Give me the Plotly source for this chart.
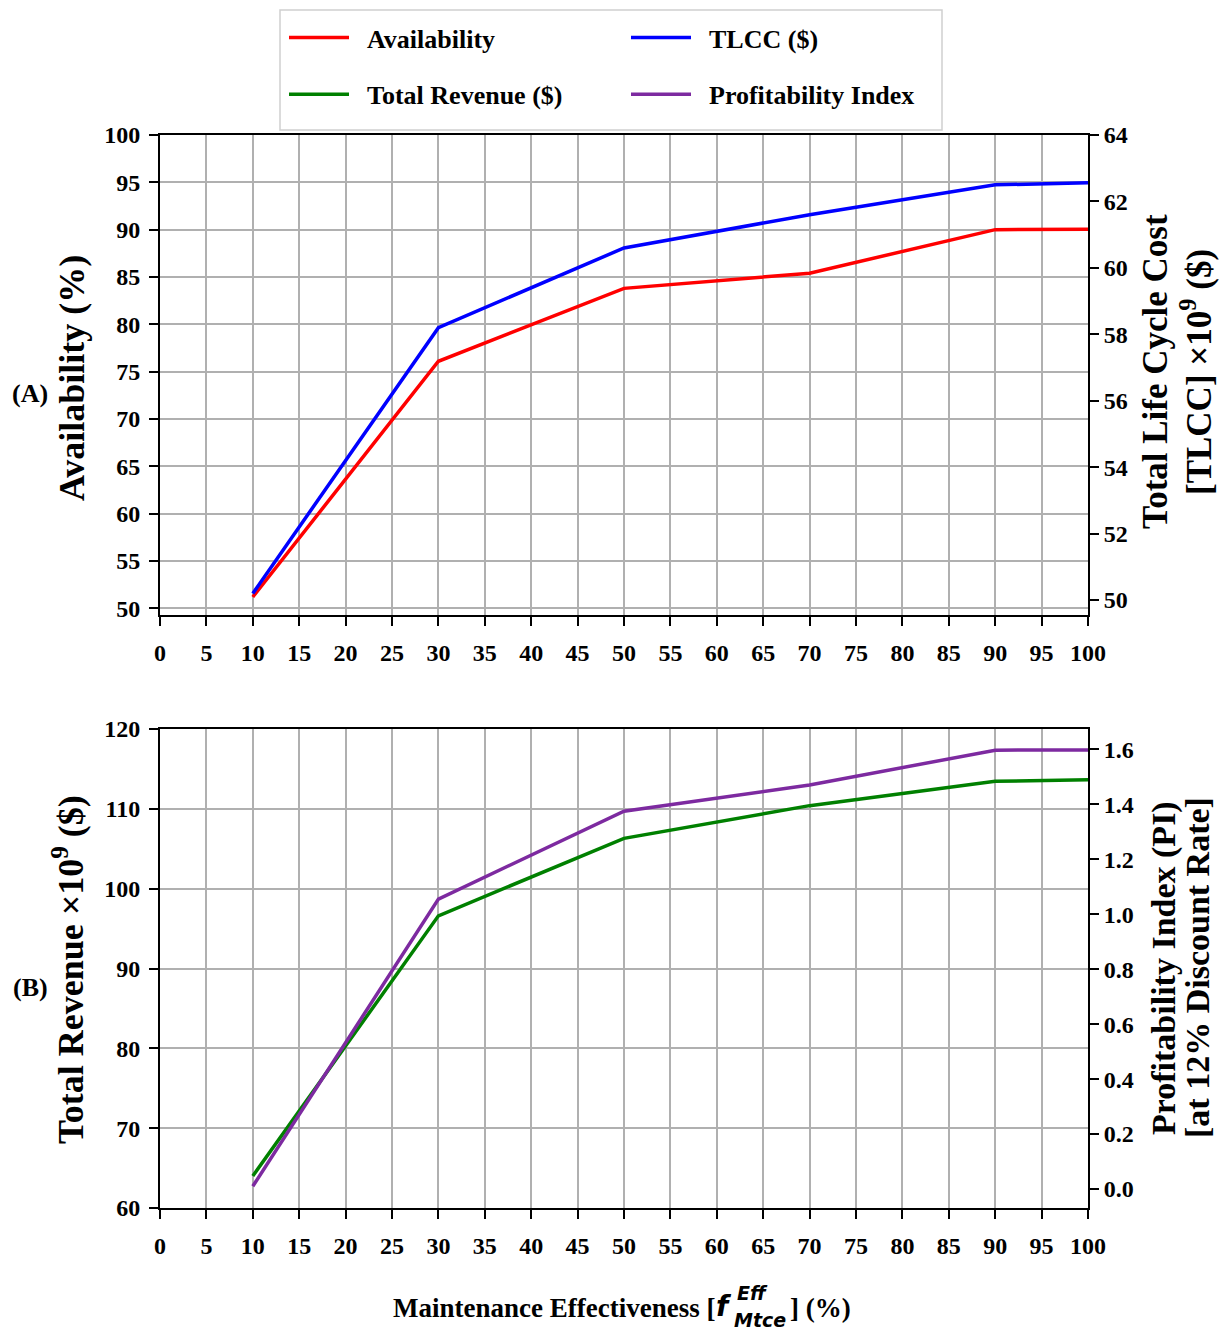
import plotly.graph_objects as go

# Maintenance effectiveness levels (%)
effectiveness = [10, 30, 50, 70, 90, 100]

# Panel A series
availability = [51.2, 76.1, 83.8, 85.4, 90.0, 90.05]      # %
tlcc = [50.2, 58.2, 60.6, 61.6, 62.5, 62.56]             # x10^9 $

# Panel B series
revenue = [64.0, 96.6, 106.3, 110.4, 113.45, 113.65]     # x10^9 $
profitability = [0.01, 1.055, 1.375, 1.47, 1.597, 1.598]

x_ticks = list(range(0, 101, 5))
avail_ticks = list(range(50, 101, 5))
tlcc_ticks = list(range(50, 65, 2))
rev_ticks = list(range(60, 121, 10))
pi_ticks = [0.0, 0.2, 0.4, 0.6, 0.8, 1.0, 1.2, 1.4, 1.6]

W, H = 1226, 1334
SERIF = "Liberation Serif"
tick_font = dict(family=SERIF, size=24, color="black", weight="bold")
GRID = "#b0b0b0"
NBSP = "\u00a0\u00a0"


def px(x):
    return x / W


def py(y):
    return 1 - y / H


fig = go.Figure()
fig.add_trace(go.Scatter(x=effectiveness, y=availability, name=NBSP + "Availability",
                         mode="lines", line=dict(color="red", width=3.5),
                         xaxis="x", yaxis="y", legend="legend", legendgroup="a"))
fig.add_trace(go.Scatter(x=effectiveness, y=tlcc, name=NBSP + "TLCC ($)",
                         mode="lines", line=dict(color="blue", width=3.5),
                         xaxis="x", yaxis="y2", legend="legend2", legendgroup="b"))
fig.add_trace(go.Scatter(x=effectiveness, y=revenue, name=NBSP + "Total Revenue ($)",
                         mode="lines", line=dict(color="green", width=3.5),
                         xaxis="x2", yaxis="y3", legend="legend", legendgroup="c"))
fig.add_trace(go.Scatter(x=effectiveness, y=profitability, name=NBSP + "Profitability Index",
                         mode="lines", line=dict(color="#7d2aa0", width=3.5),
                         xaxis="x2", yaxis="y4", legend="legend2", legendgroup="d"))

xdom = [px(160), px(1088)]
top_dom = [py(615), py(135)]
bot_dom = [py(1208), py(729)]

common_x = dict(range=[0, 100], tickvals=x_ticks, showgrid=True, gridcolor=GRID,
                gridwidth=1.5, showline=True, linecolor="black", linewidth=2,
                mirror=True, ticks="outside", ticklen=9, tickwidth=1.8,
                tickcolor="black", tickfont=tick_font, zeroline=False,
                ticklabelstandoff=6, automargin=False)
left_y = dict(showgrid=True, gridcolor=GRID, gridwidth=1.5, showline=True,
              linecolor="black", linewidth=2, mirror=True, ticks="outside",
              ticklen=9, tickwidth=1.8, tickcolor="black", tickfont=tick_font,
              zeroline=False, ticklabelstandoff=4, automargin=False)
right_y = dict(showgrid=False, showline=True, linecolor="black", linewidth=2,
               ticks="outside", ticklen=9, tickwidth=1.8, tickcolor="black",
               tickfont=tick_font, zeroline=False, side="right",
               ticklabelstandoff=0, automargin=False)

legend_font = dict(family=SERIF, size=26, color="black", weight="bold")

fig.update_layout(
    width=W, height=H,
    margin=dict(l=0, r=0, t=0, b=0, autoexpand=False),
    paper_bgcolor="white", plot_bgcolor="white",
    xaxis=dict(domain=xdom, anchor="y", **common_x),
    yaxis=dict(domain=top_dom, anchor="x", range=[49.3, 100],
               tickvals=avail_ticks, **left_y),
    yaxis2=dict(overlaying="y", anchor="x", range=[49.55, 64],
                tickvals=tlcc_ticks, **right_y),
    xaxis2=dict(domain=xdom, anchor="y3", **common_x),
    yaxis3=dict(domain=bot_dom, anchor="x2", range=[60, 120],
                tickvals=rev_ticks, **left_y),
    yaxis4=dict(overlaying="y3", anchor="x2", range=[-0.069, 1.674],
                tickvals=pi_ticks, tickformat=".1f", **right_y),
    legend=dict(x=px(284), y=py(14), xanchor="left", yanchor="top",
                bgcolor="rgba(0,0,0,0)", borderwidth=0, tracegroupgap=20,
                itemwidth=60, font=legend_font),
    legend2=dict(x=px(626), y=py(14), xanchor="left", yanchor="top",
                 bgcolor="rgba(0,0,0,0)", borderwidth=0, tracegroupgap=20,
                 itemwidth=60, font=legend_font),
    showlegend=True,
)

# Legend frame
fig.add_shape(type="rect", xref="paper", yref="paper",
              x0=px(280), x1=px(942), y0=py(130), y1=py(10),
              line=dict(color="#d0d0d0", width=1.5), fillcolor="white",
              layer="below")

ann = []


def text(x, y, s, size, angle=0, family=SERIF, xanchor="center", weight="bold"):
    ann.append(dict(x=px(x), y=py(y), xref="paper", yref="paper", text=s,
                    showarrow=False, textangle=angle, xanchor=xanchor,
                    yanchor="middle",
                    font=dict(family=family, size=size, color="black", weight=weight)))


# Axis titles
text(72, 378, "Availability (%)", 36, angle=-90)
text(1155, 372, "Total Life Cycle Cost", 35, angle=-90)
text(1196, 372, "[TLCC] \u00d710<sup>9</sup> ($)", 35, angle=-90)
text(68, 970, "Total Revenue \u00d710<sup>9</sup> ($)", 36, angle=-90)
text(1164, 968, "Profitability Index (PI)", 34, angle=-90)
text(1197, 968, "[at 12% Discount Rate]", 34, angle=-90)

# Panel tags
text(30, 393, "(A)", 26)
text(30, 987, "(B)", 26)

# Shared x-axis title with the f^Eff_Mtce symbol
text(717, 1308, "Maintenance Effectiveness [", 27, xanchor="right")
text(714, 1306, "<i>f</i>", 28, family="DejaVu Sans", xanchor="left")
text(735, 1293, "<i>Eff</i>", 19, family="DejaVu Sans", xanchor="left")
text(732, 1320, "<i>Mtce</i>", 19, family="DejaVu Sans", xanchor="left")
text(788, 1308, "] (%)", 27, xanchor="left")

fig.update_layout(annotations=ann)

fig.write_html("out.html")
